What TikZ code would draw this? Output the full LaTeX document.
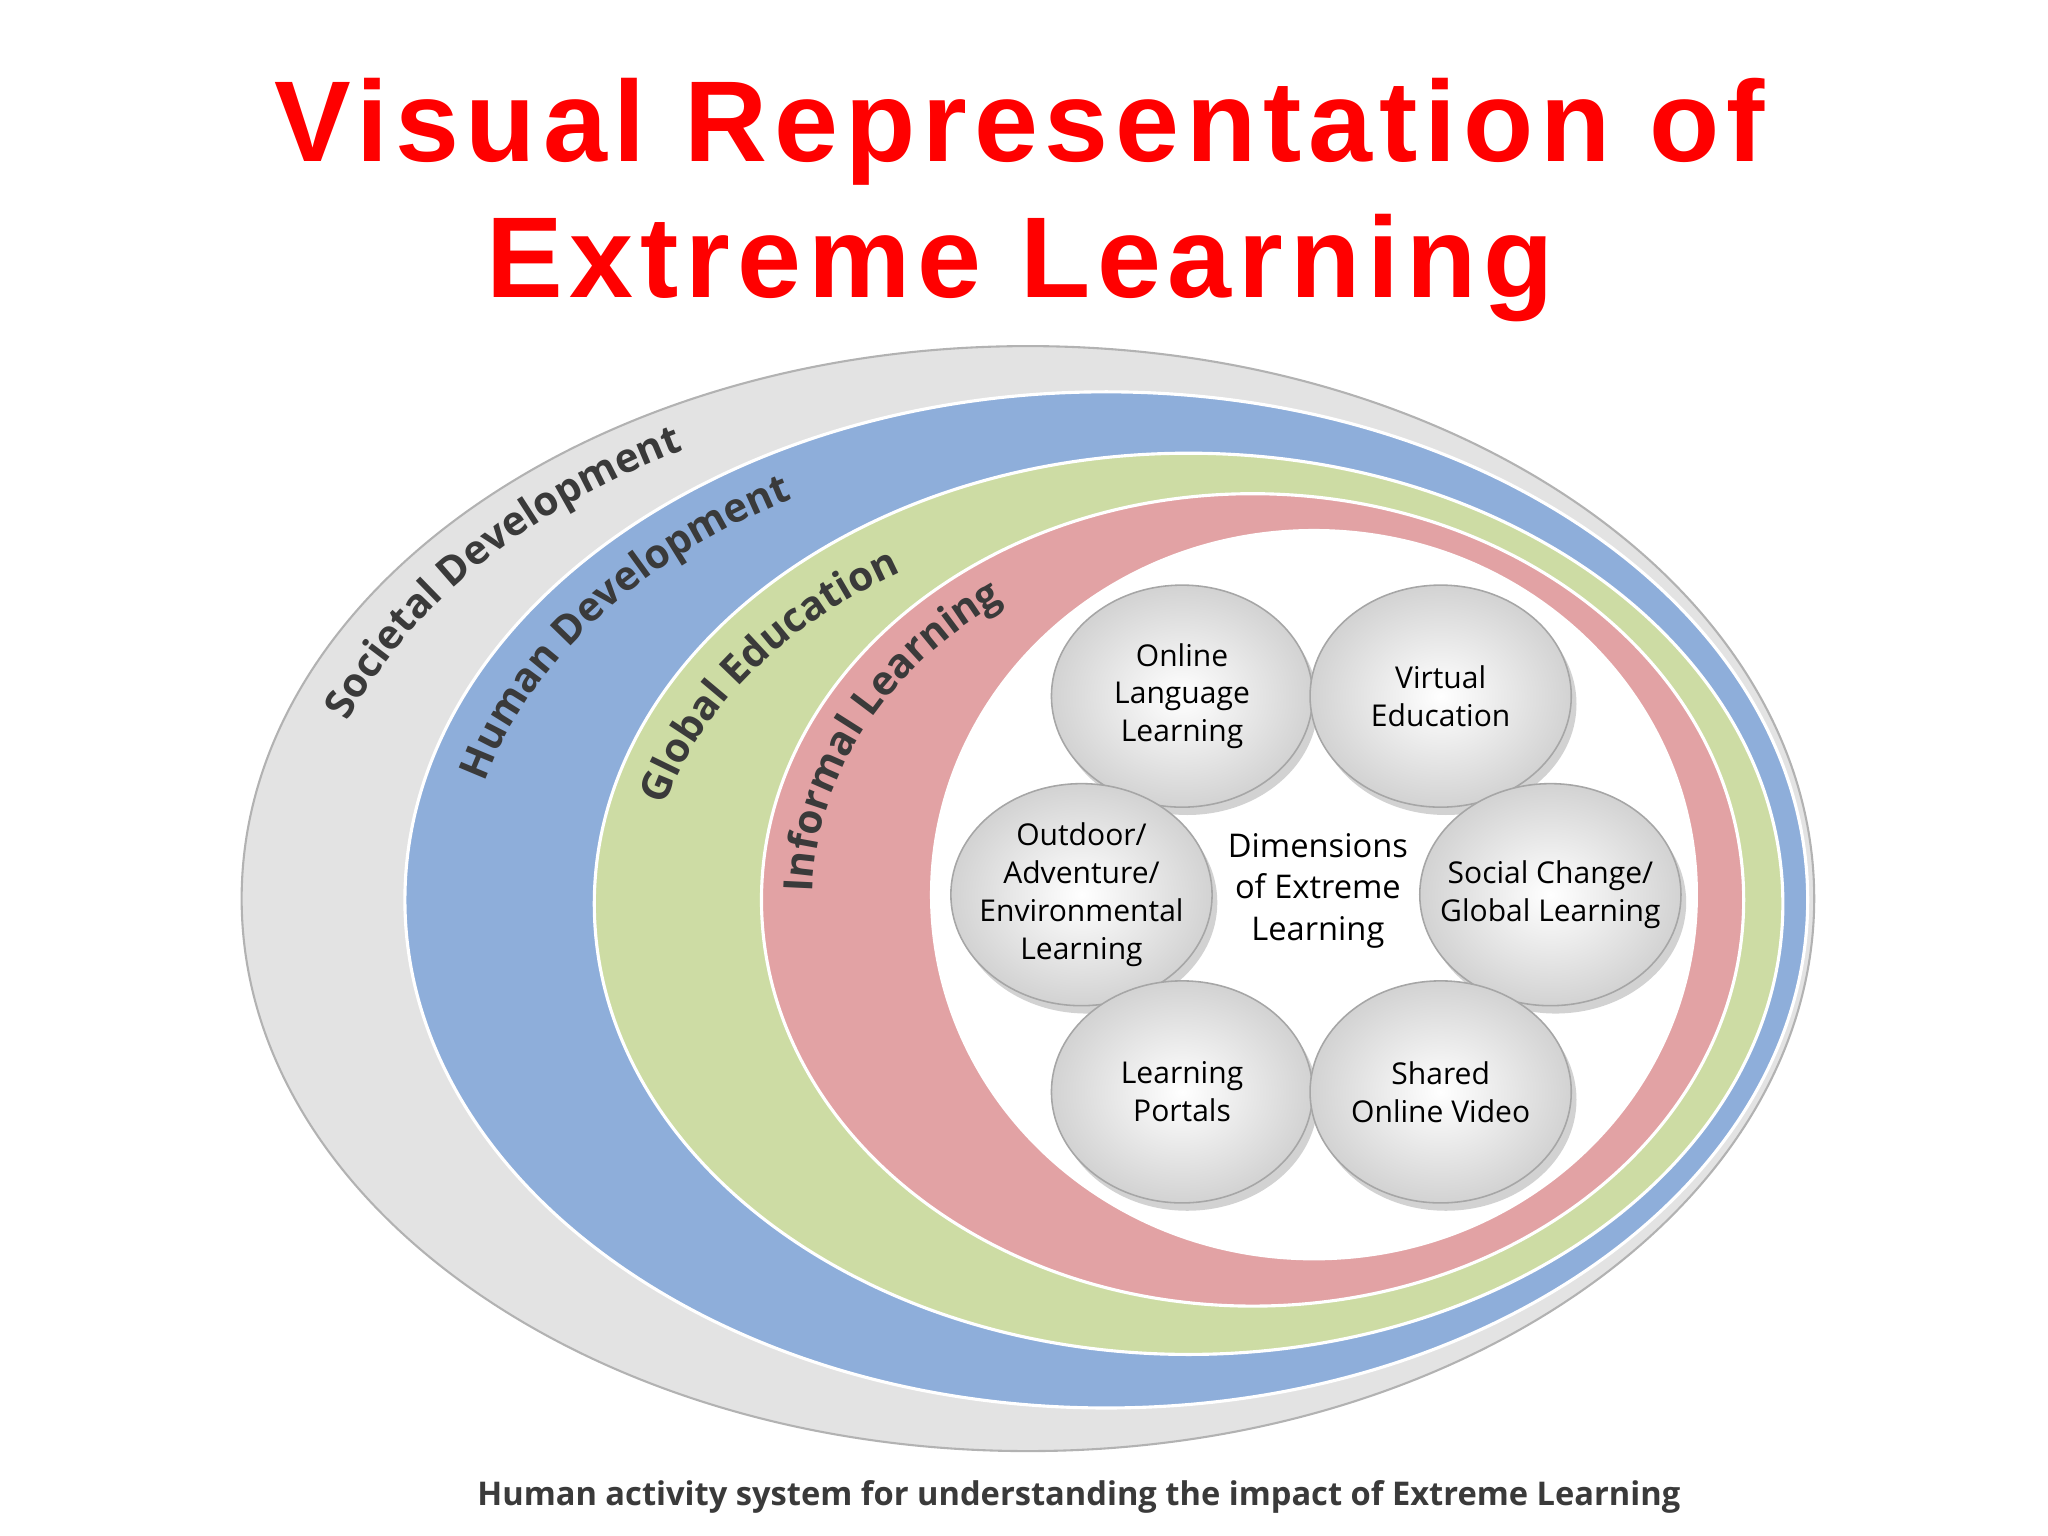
\documentclass[tikz,border=0pt]{standalone}
\usepackage{fontspec}
\setmainfont{Liberation Sans}
\setsansfont{Open Sans}
\usetikzlibrary{decorations.text,shadows,shapes.geometric}
\definecolor{gband}{HTML}{E3E3E3}
\definecolor{bband}{HTML}{8EAEDA}
\definecolor{vband}{HTML}{CDDCA4}
\definecolor{pband}{HTML}{E2A2A4}
\definecolor{lab}{HTML}{3A3A3A}
\tikzset{
 dim/.style={ellipse,minimum width=100pt,minimum height=85pt,inner sep=-8pt,draw=gray!70,line width=0.6pt,
   shading=radial,inner color=white,outer color=gray!35,drop shadow={opacity=0.35,shadow xshift=2pt,shadow yshift=-3pt},
   font=\sffamily\fontsize{11.5}{14.5}\selectfont,align=center,text=black},
 band/.style={draw=white,line width=1.2pt},
}
\newcommand{\curvlab}[1]{|\sffamily\bfseries\fontsize{15.5}{15.5}\selectfont\color{lab}|#1}
\begin{document}
\begin{tikzpicture}[x=0.5pt,y=0.5pt]
\useasboundingbox (0,0) rectangle (1568,1176);
\node[font=\bfseries\fontsize{44}{52}\selectfont\addfontfeature{LetterSpace=6},text=red,align=center] (title) at (781,1023) {Visual Representation of\\Extreme Learning};
\fill[gband,draw=gray!60,line width=0.8pt] (787,488) ellipse [x radius=602,y radius=423];
\fill[bband,band] (847,487) ellipse [x radius=537,y radius=389];
\fill[vband,band] (910,484) ellipse [x radius=455,y radius=345];
\fill[pband,band] (959,487) ellipse [x radius=376,y radius=311];
\fill[white] (1006,491) ellipse [x radius=294,y radius=280];
\path[decorate,decoration={text along path,text align=center,text={\curvlab{Societal Development}}}]
 (787,488) ++(168:555 and 390) arc[start angle=168,end angle=112,x radius=555,y radius=390];
\path[decorate,decoration={text along path,text align=center,text={\curvlab{Human Development}}}]
 (847,487) ++(172:492 and 352) arc[start angle=172,end angle=114,x radius=492,y radius=352];
\path[decorate,decoration={text along path,text align=center,text={\curvlab{Global Education}}}]
 (910,484) ++(172:414 and 300) arc[start angle=172,end angle=117,x radius=414,y radius=300];
\path[decorate,decoration={text along path,text align=center,text={\curvlab{Informal Learning}}}]
 (959,487) ++(184:337 and 277) arc[start angle=184,end angle=120,x radius=337,y radius=277];
\node[dim] (ol) at (905,643) {Online\\Language\\Learning};
\node[dim] (ve) at (1103,643) {Virtual\\Education};
\node[dim] (oa) at (828,491) {Outdoor/\\Adventure/\\Environmental\\Learning};
\node[dim] (sc) at (1187,491) {Social Change/\\Global Learning};
\node[dim] (lp) at (905,340) {Learning\\Portals};
\node[dim] (sv) at (1103,340) {Shared\\Online Video};
\node[font=\sffamily\fontsize{12.5}{16}\selectfont,align=center] (dim) at (1009,494) {Dimensions\\of Extreme\\Learning};
\node[font=\sffamily\bfseries\fontsize{12.5}{15}\selectfont,text=lab] (cap) at (826,30) {Human activity system for understanding the impact of Extreme Learning};
\end{tikzpicture}
\end{document}
